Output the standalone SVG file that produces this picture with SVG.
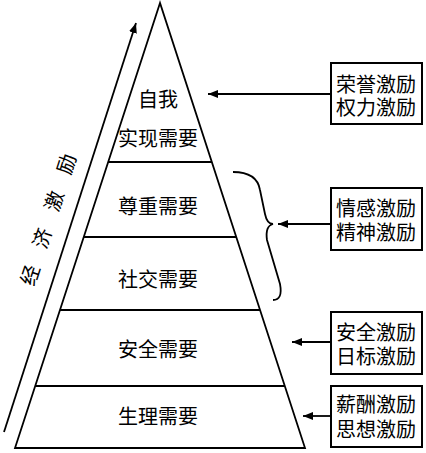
<svg xmlns="http://www.w3.org/2000/svg" width="426" height="453" viewBox="0 0 426 453">
<style>
.t{font-family:"Noto Sans CJK SC","Noto Sans",sans-serif;font-size:20px;fill:#000;text-anchor:middle}
.ln{stroke:#000;stroke-width:1.8;fill:none}
.bx{stroke:#000;stroke-width:2;fill:#fff}
</style>
<defs>
<marker id="ah" viewBox="0 0 10 8" refX="10" refY="4" markerWidth="10" markerHeight="8" markerUnits="userSpaceOnUse" orient="auto">
<path d="M0,0 L10,4 L0,8 Z" fill="#000"/>
</marker>
</defs>
<rect width="426" height="453" fill="#fff"/>
<g id="pyramid">
<path class="ln" d="M160,3 L15,448 L305,448 Z"/>
<line class="ln" x1="108" y1="162" x2="212" y2="162"/>
<line class="ln" x1="84" y1="237" x2="236" y2="237"/>
<line class="ln" x1="60" y1="310" x2="260" y2="310"/>
<line class="ln" x1="35" y1="386" x2="285" y2="386"/>
</g>
<g id="level5"><text class="t" x="158" y="107">自我</text><text class="t" x="158" y="146">实现需要</text></g>
<g id="level4"><text class="t" x="158" y="214">尊重需要</text></g>
<g id="level3"><text class="t" x="158" y="287">社交需要</text></g>
<g id="level2"><text class="t" x="158" y="357">安全需要</text></g>
<g id="level1"><text class="t" x="158" y="424">生理需要</text></g>
<g id="economic">
<text class="t" style="text-anchor:start;letter-spacing:19px" transform="translate(34,287) rotate(-72)" x="0" y="0">经济激励</text>
</g>
<g id="box1"><rect class="bx" x="331" y="63" width="91" height="61"/><text class="t" x="376" y="92">荣誉激励</text><text class="t" x="376" y="115">权力激励</text></g>
<g id="box2"><rect class="bx" x="331" y="188" width="91" height="62"/><text class="t" x="376" y="216">情感激励</text><text class="t" x="376" y="240">精神激励</text></g>
<g id="box3"><rect class="bx" x="331" y="312" width="91" height="62"/><text class="t" x="376" y="340">安全激励</text><text class="t" x="376" y="364">日标激励</text></g>
<g id="box4"><rect class="bx" x="331" y="386" width="91" height="61"/><text class="t" x="376" y="412">薪酬激励</text><text class="t" x="376" y="437">思想激励</text></g>
<g id="brace"><path class="ln" d="M233,172 Q257,172 260,190 L265,214 Q267,224 273,224 Q265,226 267,240 L280,284 Q283,300 273,300"/></g>
<g id="connectors">
<line class="ln" x1="4" y1="432" x2="136" y2="23" marker-end="url(#ah)"/>
<line class="ln" x1="331" y1="94" x2="208" y2="94" marker-end="url(#ah)"/>
<line class="ln" x1="331" y1="224" x2="278" y2="224" marker-end="url(#ah)"/>
<line class="ln" x1="331" y1="342" x2="292" y2="342" marker-end="url(#ah)"/>
<line class="ln" x1="331" y1="416" x2="303" y2="416" marker-end="url(#ah)"/>
</g>
</svg>
